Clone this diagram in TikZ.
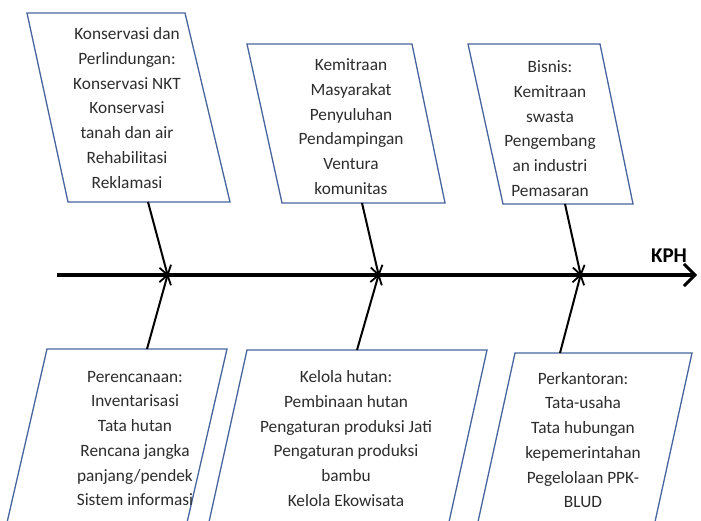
\documentclass[tikz,border=0pt]{standalone}
\usepackage{fontspec}
\setmainfont{Carlito}
\usetikzlibrary{arrows.meta}
\definecolor{boxblue}{RGB}{72,100,158}
\definecolor{txt}{RGB}{45,45,45}
\tikzset{
  catbox/.style={draw=boxblue, line width=1.3pt, fill=white, line join=miter},
  cattext/.style={align=center, text=txt, font=\fontsize{17.3}{24.7}\selectfont, inner sep=0pt},
  spine/.style={line width=3.4pt, -{Straight Barb[length=11pt,width=22pt,line width=3pt]}},
  bone/.style={line width=2pt, -{Straight Barb[length=9pt,width=12pt,line width=1.8pt]}}
}
\begin{document}
\begin{tikzpicture}[x=1pt,y=-1pt]
\useasboundingbox (0,0) rectangle (701,520);
\fill[white] (0,0) rectangle (701,520);
\clip (0,0) rectangle (701,520);
% top boxes
\draw[catbox] (27,13) -- (185,13) -- (230,202) -- (68,202) -- cycle;
\draw[catbox] (247,44) -- (412,44) -- (445,203) -- (282,203) -- cycle;
\draw[catbox] (468,44) -- (600,44) -- (633,204) -- (503,204) -- cycle;
% bottom boxes
\draw[catbox] (47,349) -- (227,349) -- (183,540) -- (3,540) -- cycle;
\draw[catbox] (247,350) -- (487,350) -- (445,540) -- (205,540) -- cycle;
\draw[catbox] (515,353) -- (692,353) -- (651,540) -- (474,540) -- cycle;
% texts
\node[cattext] (t1) at (127,108) {Konservasi dan\\Perlindungan:\\Konservasi NKT\\Konservasi\\tanah dan air\\Rehabilitasi\\Reklamasi};
\node[cattext] (t2) at (351,126.5) {Kemitraan\\Masyarakat\\Penyuluhan\\Pendampingan\\Ventura\\komunitas};
\node[cattext] (t3) at (550,128.5) {Bisnis:\\Kemitraan\\swasta\\Pengembang\\an industri\\Pemasaran};
\node[cattext] (b1) at (135,438.5) {Perencanaan:\\Inventarisasi\\Tata hutan\\Rencana jangka\\panjang/pendek\\Sistem informasi};
\node[cattext] (b2) at (346,438.5) {Kelola hutan:\\Pembinaan hutan\\Pengaturan produksi Jati\\Pengaturan produksi\\bambu\\Kelola Ekowisata};
\node[cattext] (b3) at (583,440) {Perkantoran:\\Tata-usaha\\Tata hubungan\\kepemerintahan\\Pegelolaan PPK-\\BLUD};
% connector anchors
\coordinate (s0) at (57,275);
\coordinate (s1) at (697,275);
\coordinate (p1) at (168,275);
\coordinate (p2) at (379,275);
\coordinate (p3) at (581,275);
\coordinate (t1b) at (148,202);
\coordinate (t2b) at (362,203);
\coordinate (t3b) at (565,204);
\coordinate (b1t) at (147,349);
\coordinate (b2t) at (357,350);
\coordinate (b3t) at (560,353);
% spine
\draw[spine] (s0) -- (s1);
\node[font=\fontsize{21}{23}\selectfont\bfseries, anchor=base, inner sep=0pt] (kph) at (669,262) {KPH};
% bones
\draw[bone] (t1b) -- ([yshift=-1.5pt]p1);
\draw[bone] (t2b) -- ([yshift=-1.5pt]p2);
\draw[bone] (t3b) -- ([yshift=-1.5pt]p3);
\draw[bone] (b1t) -- ([yshift=1.5pt]p1);
\draw[bone] (b2t) -- ([yshift=1.5pt]p2);
\draw[bone] (b3t) -- ([yshift=1.5pt]p3);
\end{tikzpicture}
\end{document}
